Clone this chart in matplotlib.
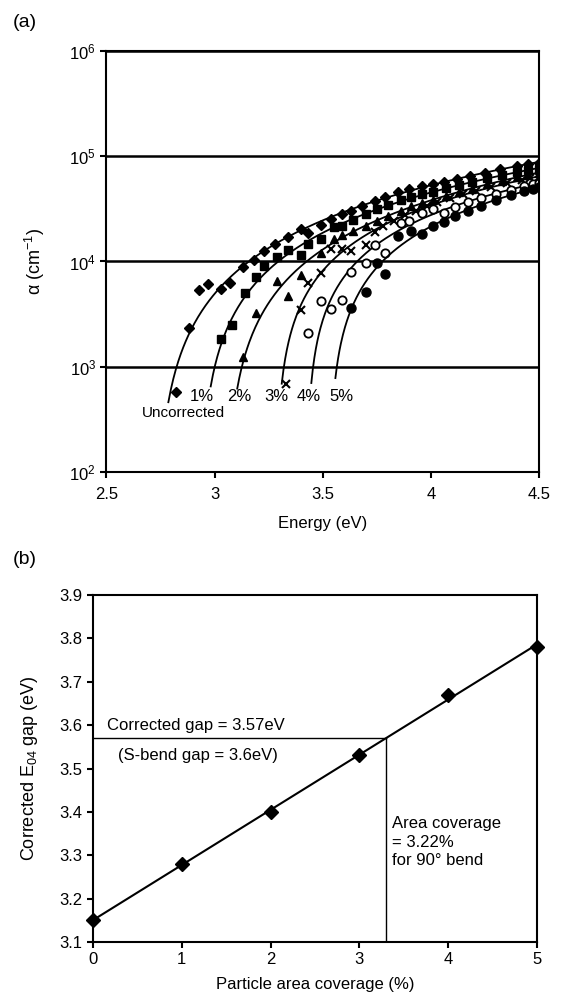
import numpy as np
import matplotlib.pyplot as plt

plt.rcParams['font.family'] = ['Liberation Sans', 'DejaVu Sans']
plt.rcParams['mathtext.fontset'] = 'custom'
plt.rcParams['mathtext.rm'] = 'Liberation Sans'
plt.rcParams['mathtext.it'] = 'Liberation Sans:italic'

# (a) absorption coefficient vs energy, for each particle coverage correction
e_unc = [2.82, 2.88, 2.93, 2.97, 3.03, 3.07, 3.13, 3.18, 3.23, 3.28, 3.34, 3.40, 3.43, 3.49, 3.54,
         3.59, 3.63, 3.68, 3.74, 3.79, 3.85, 3.90, 3.96, 4.01, 4.06, 4.12, 4.18, 4.25, 4.32, 4.40, 4.45, 4.50]
a_unc = [580, 2320, 5360, 6070, 5440, 6210, 8930, 10300, 12600, 14700, 17200, 20400, 18800, 22000, 25300,
         28000, 30200, 33500, 37500, 41000, 45500, 48500, 52000, 54500, 57500, 61000, 65000, 70000, 75000, 80500, 84000, 87000]

e_1 = [3.03, 3.08, 3.14, 3.19, 3.23, 3.29, 3.34, 3.40, 3.43, 3.49, 3.55, 3.59, 3.64, 3.70, 3.75, 3.80,
       3.86, 3.91, 3.96, 4.01, 4.07, 4.13, 4.19, 4.26, 4.33, 4.40, 4.45, 4.50]
a_1 = [1820, 2490, 5060, 7180, 9060, 10960, 12800, 11500, 14600, 16200, 21400, 21700, 25000, 28500, 31500, 34500,
       38000, 41000, 43500, 46000, 49500, 53000, 57000, 62000, 66500, 71000, 73500, 76000]

e_2 = [3.13, 3.19, 3.29, 3.34, 3.40, 3.49, 3.55, 3.59, 3.64, 3.70, 3.75, 3.80, 3.86, 3.91, 3.96,
       4.01, 4.07, 4.13, 4.19, 4.26, 4.33, 4.40, 4.45, 4.50]
a_2 = [1250, 3220, 6570, 4730, 7440, 11950, 16300, 17900, 19500, 21800, 24500, 27000, 30500, 33500, 36000,
       38500, 42000, 45500, 49000, 54000, 58500, 63500, 67000, 70000]

e_3 = [3.33, 3.40, 3.43, 3.49, 3.54, 3.59, 3.63, 3.70, 3.74, 3.78, 3.83, 3.88, 3.93, 3.98, 4.03,
       4.09, 4.15, 4.21, 4.28, 4.35, 4.42, 4.46, 4.50]
a_3 = [686, 3460, 6210, 7720, 13100, 13100, 12600, 14400, 19200, 21700, 24500, 27500, 30500, 33500, 36500,
       40000, 43500, 47000, 51500, 55500, 59500, 61500, 63500]

e_4 = [3.43, 3.49, 3.54, 3.59, 3.63, 3.70, 3.74, 3.79, 3.86, 3.90, 3.96, 4.01, 4.06, 4.11, 4.17,
       4.23, 4.30, 4.37, 4.43, 4.47, 4.50]
a_4 = [2110, 4220, 3540, 4300, 8000, 9610, 14400, 12100, 23100, 24400, 28700, 31300, 29100, 33000, 36500,
       40000, 44000, 48000, 52000, 54000, 56000]

e_5 = [3.63, 3.70, 3.75, 3.79, 3.85, 3.91, 3.96, 4.01, 4.06, 4.11, 4.17, 4.23, 4.30, 4.37, 4.43, 4.47, 4.50]
a_5 = [3640, 5170, 9610, 7610, 17500, 19500, 18100, 21700, 23900, 27000, 30500, 34000, 38500, 42500, 46500, 49000, 51000]

curve_labels = ['Uncorrected', '1%', '2%', '3%', '4%', '5%']
label_energy = [2.855, 2.94, 3.114, 3.287, 3.433, 3.588]
curve_end = [460, 650, 620, 690, 700, 780]

# (b) corrected E04 gap vs particle area coverage
coverage = [0, 1, 2, 3, 4, 5]
gap = [3.15, 3.28, 3.40, 3.53, 3.67, 3.78]
corrected_gap = 3.57


def fit_edge(E, a):
    # alpha = A (E - Eg)^p, least squares on alpha itself (grid over Eg and p)
    E = np.asarray(E, float)
    a = np.asarray(a, float)
    best = None
    for eg in np.linspace(E.min() - 0.8, E.min() - 0.005, 320):
        for p in np.linspace(0.6, 3.0, 241):
            f = (E - eg) ** p
            A = np.sum(a * f) / np.sum(f * f)
            r = np.sum((a - A * f) ** 2)
            if best is None or r < best[0]:
                best = (r, eg, p, A)
    return best[1:]


fig = plt.figure(figsize=(5.67, 9.98), dpi=100)

ax1 = fig.add_axes([0.1878, 0.5271, 0.7628, 0.4218])
series = [(e_unc, a_unc, dict(marker='D', ms=5.5, mfc='k', mec='k')),
          (e_1, a_1, dict(marker='s', ms=6, mfc='k', mec='k')),
          (e_2, a_2, dict(marker='^', ms=6, mfc='k', mec='k')),
          (e_3, a_3, dict(marker='x', ms=6, mew=1.5, mec='k')),
          (e_4, a_4, dict(marker='o', ms=6, mfc='white', mec='k', mew=1.3)),
          (e_5, a_5, dict(marker='o', ms=6.5, mfc='k', mec='k'))]

for i, (E, a, st) in enumerate(series):
    eg, p, A = fit_edge(E, a)
    e0 = eg + (curve_end[i] / A) ** (1 / p)
    ee = np.linspace(e0, 4.5, 300)
    ax1.plot(ee, A * (ee - eg) ** p, color='k', lw=1.3)
    ax1.plot(E, a, ls='none', **st)
    if i == 0:
        ax1.text(label_energy[i], 365, curve_labels[i], ha='center', va='center', fontsize=11)
    else:
        ax1.text(label_energy[i], 519, curve_labels[i], ha='center', va='center', fontsize=12)

ax1.set_yscale('log')
ax1.set_xlim(2.5, 4.5)
ax1.set_ylim(1e2, 1e6)
ax1.set_xticks([2.5, 3, 3.5, 4, 4.5])
ax1.set_xticklabels(['2.5', '3', '3.5', '4', '4.5'])
ax1.set_yticks([1e2, 1e3, 1e4, 1e5, 1e6])
ax1.yaxis.set_minor_locator(plt.NullLocator())
ax1.yaxis.grid(True, color='k', lw=1.8)
ax1.tick_params(labelsize=12, length=4, width=1.5, direction='out')
ax1.tick_params(axis='x', pad=7)
for s in ax1.spines.values():
    s.set_linewidth(1.5)
ax1.set_xlabel('Energy (eV)', fontsize=12, labelpad=10)
ax1.set_ylabel('α (cm$^{-1}$)', fontsize=13, labelpad=16)

ax2 = fig.add_axes([93 / 567, 0.0561, (537 - 93) / 567, 0.3477])
slope, icpt = np.polyfit(coverage, gap, 1)
xx = np.array([0, 5])
ax2.plot(xx, icpt + slope * xx, color='k', lw=1.5)
ax2.plot(coverage, gap, ls='none', marker='D', ms=7, color='k', clip_on=False, zorder=5)
cov_at = (corrected_gap - icpt) / slope
ax2.plot([0, cov_at], [corrected_gap, corrected_gap], color='k', lw=1)
ax2.plot([cov_at, cov_at], [3.1, corrected_gap], color='k', lw=1)
ax2.text(0.16, 3.60, 'Corrected gap = 3.57eV', fontsize=12, va='center')
ax2.text(0.28, 3.531, '(S-bend gap = 3.6eV)', fontsize=12, va='center')
ax2.text(3.37, 3.33, 'Area coverage\n= 3.22%\nfor 90° bend', fontsize=12, va='center',
         linespacing=1.3)
ax2.set_xlim(0, 5)
ax2.set_ylim(3.1, 3.9)
ax2.set_xticks(coverage)
ax2.set_yticks(np.arange(3.1, 3.95, 0.1))
ax2.set_yticklabels(['%.1f' % v for v in np.arange(3.1, 3.95, 0.1)])
ax2.tick_params(labelsize=12, length=4, width=1.5, direction='out')
for s in ax2.spines.values():
    s.set_linewidth(1.5)
ax2.set_xlabel('Particle area coverage (%)', fontsize=12, labelpad=7)
ax2.set_ylabel('Corrected E$_{04}$ gap (eV)', fontsize=13, labelpad=14)

fig.text(0.022, 0.977, '(a)', fontsize=14, va='center')
fig.text(0.022, 0.439, '(b)', fontsize=14, va='center')

fig.savefig('out.png', dpi=100)
